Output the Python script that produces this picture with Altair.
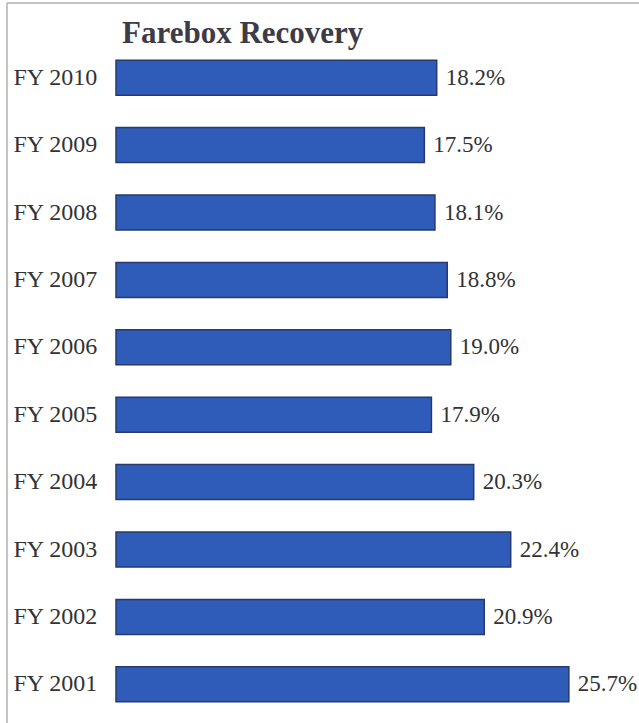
import altair as alt
import pandas as pd

years = ["FY 2010", "FY 2009", "FY 2008", "FY 2007", "FY 2006",
         "FY 2005", "FY 2004", "FY 2003", "FY 2002", "FY 2001"]
values = [18.2, 17.5, 18.1, 18.8, 19.0, 17.9, 20.3, 22.4, 20.9, 25.7]
value_labels = ["18.2%", "17.5%", "18.1%", "18.8%", "19.0%",
                "17.9%", "20.3%", "22.4%", "20.9%", "25.7%"]
title_text = ["Farebox Recovery"]

df = pd.DataFrame({"year": years, "value": values, "label": value_labels})
df_title = pd.DataFrame({"t": title_text})

FONT = "Liberation Serif"

y_enc = alt.Y("year:N", sort=years,
              scale=alt.Scale(paddingInner=0.48, paddingOuter=0.24),
              axis=alt.Axis(title=None, domain=False, ticks=False, tickSize=0,
                            labelAlign="left", labelPadding=103,
                            labelFont=FONT, labelFontSize=24,
                            labelColor="#333333"))
x_enc = alt.X("value:Q", scale=alt.Scale(domain=[0, 29], nice=False),
              axis=None)

bars = alt.Chart(df).mark_bar(color="#2e5cb8", stroke="#27396e",
                              strokeWidth=1.5).encode(x=x_enc, y=y_enc)

texts = alt.Chart(df).mark_text(align="left", baseline="middle", dx=9,
                                font=FONT, fontSize=23,
                                color="#333333").encode(
    x=x_enc, y=alt.Y("year:N", sort=years), text="label:N")

title = alt.Chart(df_title).mark_text(align="left", baseline="alphabetic",
                                      font=FONT, fontSize=31, fontWeight="bold",
                                      color="#3c3c48").encode(
    x=alt.value(6), y=alt.value(-1), text="t:N")

frame_top = alt.Chart(df_title).mark_rule(color="#b0b0b0", strokeWidth=1.5).encode(
    x=alt.value(-109), x2=alt.value(600), y=alt.value(-41))
frame_left = alt.Chart(df_title).mark_rule(color="#b0b0b0", strokeWidth=1.5).encode(
    x=alt.value(-109), y=alt.value(-41), y2=alt.value(690))

chart = alt.layer(bars, texts, title, frame_top, frame_left).properties(
    width=511, height=674,
    autosize=alt.AutoSizeParams(type="none"),
    padding={"left": 116, "top": 44, "right": 12, "bottom": 5},
).configure_view(stroke=None)

chart.save("out.html", embed_options={"renderer": "svg", "actions": False})
